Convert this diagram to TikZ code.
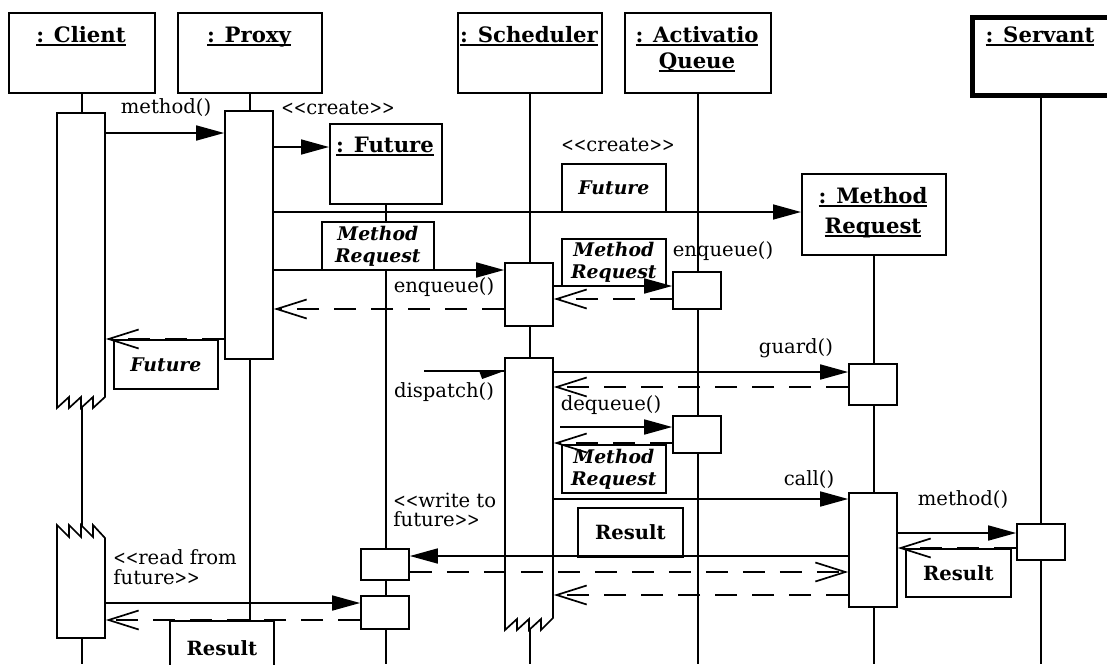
\documentclass[tikz,border=0pt]{standalone}
\usepackage{graphicx}
\usepackage{fontspec}
\setmainfont{DejaVu Serif}
\usetikzlibrary{arrows.meta,positioning,calc}
\tikzstyle{objbox}=[draw, line width=0.85pt, fill=white, inner sep=0pt]
\tikzstyle{actbox}=[draw, line width=0.85pt, fill=white, inner sep=0pt, minimum width=24pt]
\tikzstyle{actline}=[draw, line width=0.85pt, fill=white]
\tikzstyle{lifeline}=[draw, line width=0.85pt]
\tikzstyle{msg}=[draw, line width=0.85pt, -{Triangle[length=14pt,width=7.5pt]}]
\tikzstyle{ret}=[draw, line width=0.85pt, dash pattern=on 11pt off 7.5pt, -{Straight Barb[length=15pt,width=9.5pt]}]
\tikzstyle{argbox}=[draw, line width=0.85pt, fill=white, inner sep=0pt, align=center,
font=\bfseries\itshape\fontsize{9.4}{11}\selectfont]
\tikzstyle{hdr}=[inner sep=0pt, font=\bfseries\fontsize{10.6}{13}\selectfont]
\tikzstyle{lbl}=[inner sep=0pt, font=\fontsize{9.8}{9.8}\selectfont]
\newcommand{\objname}[1]{\setbox0=\hbox{#1}\rlap{\vrule height -1.0pt depth 1.8pt width \wd0}\box0}
\newcommand{\lgl}{\scalebox{0.76}[1]{<\kern0pt<}}
\newcommand{\rgl}{\scalebox{0.76}[1]{>\kern0pt>}}
\newcommand{\objrect}[6][]{\node[objbox,#1,anchor=north west,minimum width={(#5-#3)*0.5pt},
minimum height={(#6-#4)*0.5pt}] (#2) at (#3,#4) {};}
\newcommand{\actv}[4]{\node[actbox,anchor=north,minimum height={(#4-#3)*0.5pt}] (#1) at (#2,#3) {};}
\newcommand{\argbox}[7][]{\node[argbox,#1,anchor=north west,minimum width={(#5-#3)*0.5pt},
minimum height={(#6-#4)*0.5pt}] (#2) at (#3,#4) {#7};}

\begin{document}
\begin{tikzpicture}[x=0.5pt,y=-0.5pt]
	\useasboundingbox (0,0) rectangle (1107,664);
	\clip (0,0) rectangle (1107,664);

	% Draw object boxes
	\objrect{client}{8}{12}{154}{92}
	\objrect{proxy}{177}{12}{321}{92}
	\objrect{sched}{457}{12}{601}{92}
	\objrect{aqueue}{624}{12}{770}{92}
	\objrect[line width=2.5pt]{servant}{969.5}{14.5}{1120}{92.5}
	\objrect{future}{329}{123}{441}{203}
	\objrect{mreq}{801}{173}{945}{254}

	\node[hdr, anchor=base] (tclient) at (81,42) {\objname{: Client}};
	\node[hdr, anchor=base] (tproxy) at (249,42) {\objname{: Proxy}};
	\node[hdr, anchor=base] (tsched) at (529,42) {\objname{: Scheduler}};
	\node[hdr, anchor=base] (taqueue) at (697,42) {\objname{: Activatio}};
	\node[hdr, anchor=base] (taqueueb) at (697,68) {\objname{Queue}};
	\node[hdr, anchor=base] (tservant) at (1040,42) {\objname{: Servant}};
	\node[hdr, anchor=base] (tfuture) at (385,152) {\objname{: Future}};
	\node[hdr, anchor=base] (tmreq) at (873,203) {\objname{: Method}};
	\node[hdr, anchor=base] (tmreqb) at (873,233) {\objname{Request}};

	% Draw lifelines
	\foreach \o in {client,proxy,sched,aqueue,future,mreq}
		\path[lifeline] (\o.south) -- (\o.south |- 0,664);
	\coordinate (svtop) at (1041,94);
	\path[lifeline] (svtop) -- (svtop |- 0,664);

	% Draw argument boxes
	\argbox{afuture}{561}{163}{665}{211}{Future}
	\argbox{amreq}{321}{221}{433}{269}{Method\\Request}
	\argbox{amreqb}{561}{238}{665}{285}{Method\\Request}
	\argbox{afutureb}{113}{339}{217}{388}{Future}
	\argbox{amreqc}{561}{444}{665}{492}{Method\\Request}
	\argbox[font=\bfseries\fontsize{9.8}{11}\selectfont]{aresult}{577}{507}{682}{556}{Result}
	\argbox[font=\bfseries\fontsize{9.8}{11}\selectfont]{aresultb}{905}{548}{1010}{596}{Result}
	\argbox[font=\bfseries\fontsize{9.8}{11}\selectfont]{aresultc}{169}{620}{273}{674}{Result}

	% Draw activations
	\node[actbox, draw=none, fill=none, anchor=north, minimum height={(408-113)*0.5pt}] (clact) at (81,113) {};
	\path[actline] (57,113) -- (57,408) -- (69,397) -- (69,408) -- (81,397) -- (81,408)
		-- (93,397) -- (93,408) -- (105,397) -- (105,113) -- cycle;
	\node[actbox, draw=none, fill=none, anchor=north, minimum height={(638-525)*0.5pt}] (clactb) at (81,525) {};
	\path[actline] (57,638) -- (57,525) -- (69,537) -- (69,525) -- (81,537) -- (81,525)
		-- (93,537) -- (93,525) -- (105,538) -- (105,638) -- cycle;
	\node[actbox, draw=none, fill=none, anchor=north, minimum height={(630-358)*0.5pt}] (sactb) at (529,358) {};
	\path[actline] (505,358) -- (505,630) -- (517,619) -- (517,630) -- (529,619) -- (529,630)
		-- (541,619) -- (541,630) -- (553,618) -- (553,358) -- cycle;
	\actv{pxact}{249}{110}{358}
	\actv{sact}{529}{262}{325}
	\actv{aqact}{697}{271}{308}
	\actv{aqactb}{697}{415}{452}
	\actv{mrguard}{873}{363}{404}
	\actv{mrcall}{873}{492}{606}
	\actv{svact}{1041}{523}{559}
	\actv{ftact}{385}{548}{579}
	\actv{ftactb}{385}{595}{628}

	% Draw messages
	\path[msg] (clact.east |- 0,133) -- (pxact.west |- 0,133);
	\path[msg] (pxact.east |- 0,147) -- (future.west |- 0,147);
	\path[msg] (pxact.east |- 0,212) -- (mreq.west |- 0,212);
	\path[msg] (pxact.east |- 0,270) -- (sact.west |- 0,270);
	\path[ret] (sact.west |- 0,309) -- (pxact.east |- 0,309);
	\path[msg] (sact.east |- 0,286) -- (aqact.west |- 0,286);
	\path[ret] (aqact.west |- 0,299) -- (sact.east |- 0,299);
	\path[ret] (pxact.west |- 0,339) -- (clact.east |- 0,339);
	\coordinate (dispfrom) at (424,371);
	\path[lifeline] (dispfrom) -- (sactb.west |- 0,371);
	\fill (sactb.west |- 0,371) -- ++(-25,0) -- ++(3,8) -- cycle;
	\path[msg] (sactb.east |- 0,372) -- (mrguard.west |- 0,372);
	\path[ret] (mrguard.west |- 0,387) -- (sactb.east |- 0,387);
	\coordinate (deqfrom) at (560,427);
	\path[msg] (deqfrom) -- (aqactb.west |- 0,427);
	\path[ret] (aqactb.west |- 0,443) -- (sactb.east |- 0,443);
	\path[msg] (sactb.east |- 0,499) -- (mrcall.west |- 0,499);
	\path[msg] (mrcall.east |- 0,533) -- (svact.west |- 0,533);
	\path[ret] (svact.west |- 0,548) -- (mrcall.east |- 0,548);
	\path[msg] (mrcall.west |- 0,556) -- (ftact.east |- 0,556);
	\path[ret] (ftact.east |- 0,572) -- (mrcall.west |- 0,572);
	\path[ret] (mrcall.west |- 0,595) -- (sactb.east |- 0,595);
	\path[msg] (clactb.east |- 0,603) -- (ftactb.west |- 0,603);
	\path[ret] (ftactb.west |- 0,620) -- (clactb.east |- 0,620);

	% Draw message labels
	\node[lbl] (lmethod) at (166,108) {method()};
	\node[lbl] (lcreate) at (338,108) {\lgl create\rgl};
	\node[lbl] (lcreateb) at (618,145) {\lgl create\rgl};
	\node[lbl] (lenqueue) at (444,287) {enqueue()};
	\node[lbl] (lenqueueb) at (723,251) {enqueue()};
	\node[lbl] (ldispatch) at (444,392) {dispatch()};
	\node[lbl] (lguard) at (796,348) {guard()};
	\node[lbl] (ldequeue) at (611,405) {dequeue()};
	\node[lbl] (lcall) at (809,480) {call()};
	\node[lbl, align=left, anchor=west] (lwrite) at (393,510) {\lgl write to\\future\rgl};
	\node[lbl] (lmethodb) at (963,500) {method()};
	\node[lbl, align=left, anchor=west] (lread) at (113,567) {\lgl read from\\future\rgl};
\end{tikzpicture}
\end{document}
